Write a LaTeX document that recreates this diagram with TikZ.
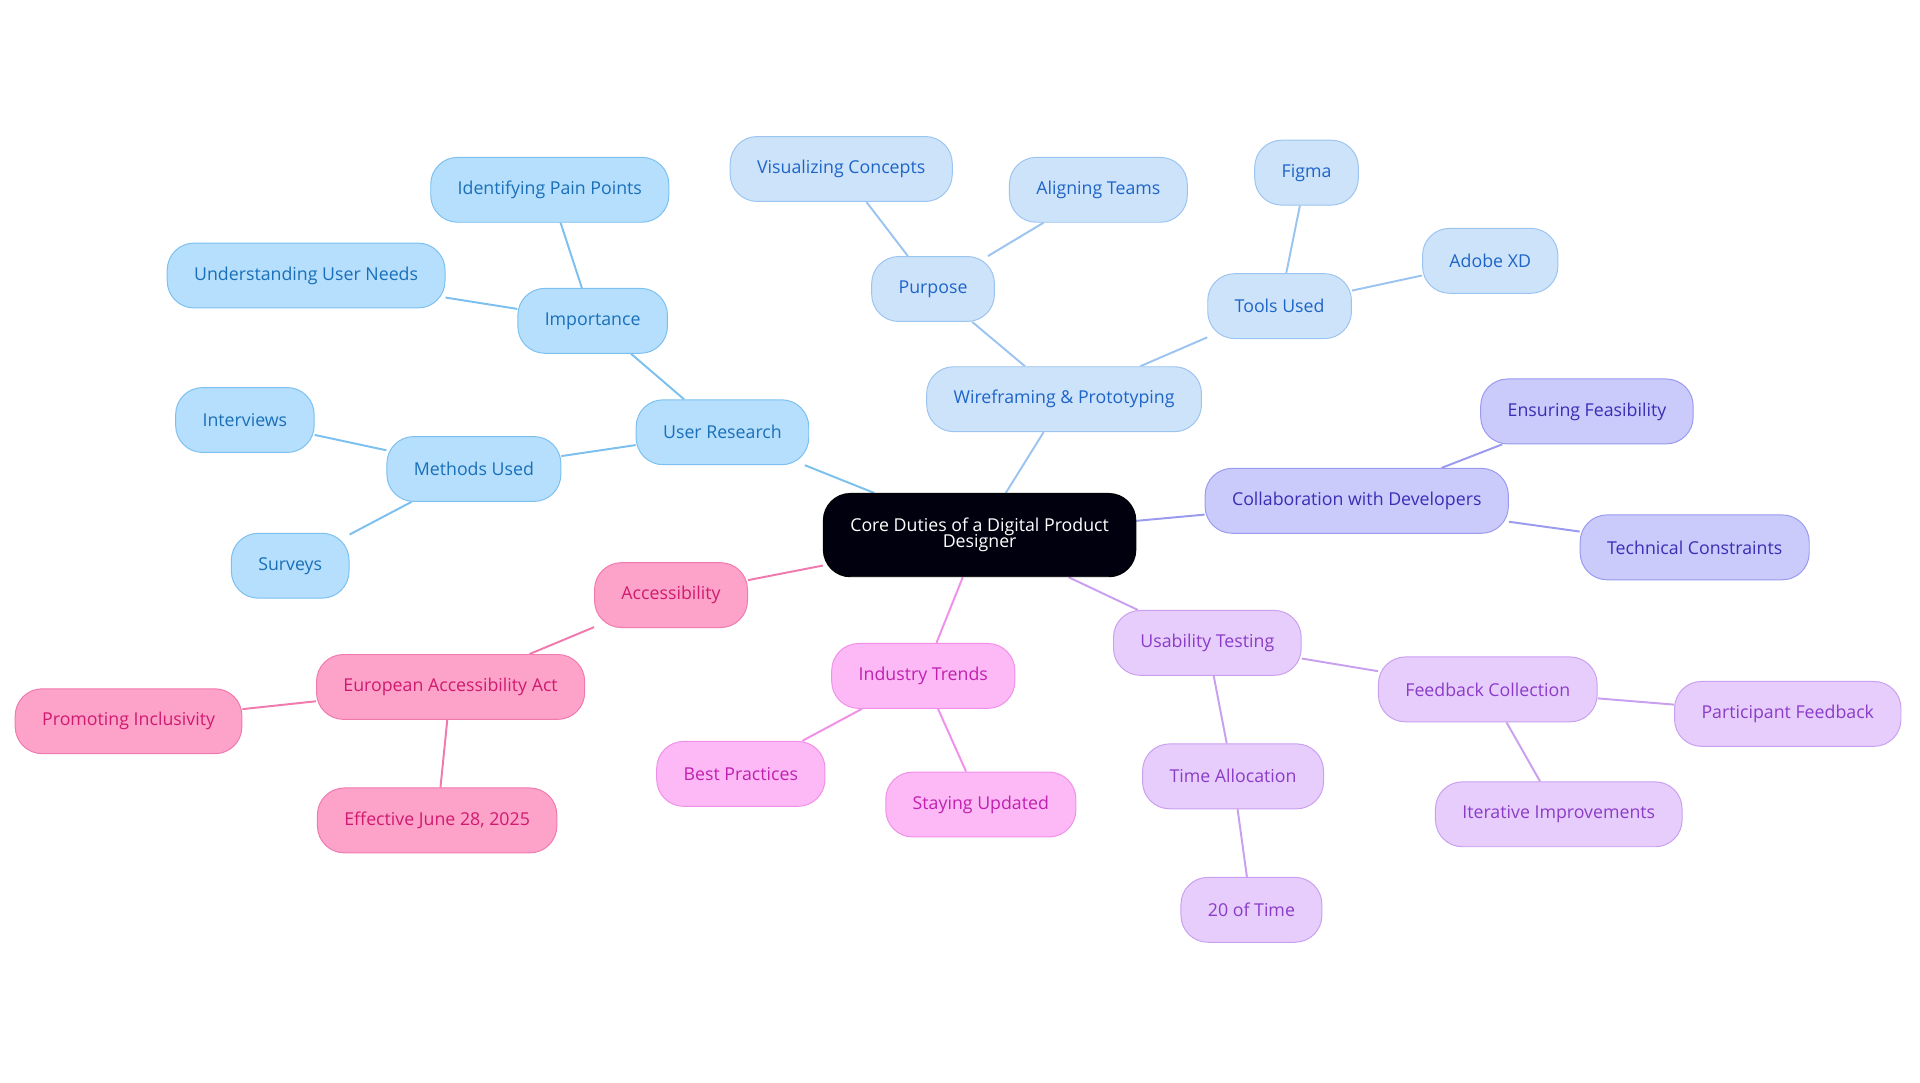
\documentclass[tikz,border=0pt]{standalone}
\usepackage{fontspec}
\setmainfont{Open Sans}
\usetikzlibrary{backgrounds}
\definecolor{bF}{HTML}{B5DFFC}\definecolor{bS}{HTML}{7CC0F0}\definecolor{bT}{HTML}{1A6FB8}
\definecolor{wF}{HTML}{CDE3FA}\definecolor{wS}{HTML}{9CC4F0}\definecolor{wT}{HTML}{1E64C8}
\definecolor{cF}{HTML}{CACAFB}\definecolor{cS}{HTML}{9A9AF0}\definecolor{cT}{HTML}{3B2DB5}
\definecolor{uF}{HTML}{E7CDFB}\definecolor{uS}{HTML}{C9A0F0}\definecolor{uT}{HTML}{8A3CC8}
\definecolor{iF}{HTML}{FDB9F5}\definecolor{iS}{HTML}{F090E8}\definecolor{iT}{HTML}{C020B0}
\definecolor{aF}{HTML}{FDA2C9}\definecolor{aS}{HTML}{F07AAE}\definecolor{aT}{HTML}{D01A70}
\tikzset{x=1pt,y=-1pt,
 nd/.style={rounded corners=22pt,minimum height=53pt,inner xsep=22pt,line width=0.8pt,font=\fontsize{14.5}{17}\selectfont},
 bn/.style={nd,fill=bF,draw=bS,text=bT}, be/.style={draw=bS,line width=1.6pt},
 wn/.style={nd,fill=wF,draw=wS,text=wT}, we/.style={draw=wS,line width=1.6pt},
 cn/.style={nd,fill=cF,draw=cS,text=cT}, ce/.style={draw=cS,line width=1.6pt},
 un/.style={nd,fill=uF,draw=uS,text=uT}, ue/.style={draw=uS,line width=1.6pt},
 inn/.style={nd,fill=iF,draw=iS,text=iT}, ie/.style={draw=iS,line width=1.6pt},
 an/.style={nd,fill=aF,draw=aS,text=aT}, ae/.style={draw=aS,line width=1.6pt}}
\begin{document}
\begin{tikzpicture}
\useasboundingbox (0,0) rectangle (1568,884);
\node[nd,fill=black!90!blue!60!black,draw=black,text=white,align=center,minimum height=68pt,minimum width=255pt] (c) at (800,437) {Core Duties of a Digital Product\\[-4pt]Designer};
\node[bn] (ur) at (590,353) {User Research};
\node[bn] (imp) at (484,262) {Importance};
\node[bn] (ipp) at (449,155) {Identifying Pain Points};
\node[bn] (uun) at (250,225) {Understanding User Needs};
\node[bn] (mu) at (387,383) {Methods Used};
\node[bn] (int) at (200,343) {Interviews};
\node[bn] (sur) at (237,462) {Surveys};
\node[wn] (wp) at (869,326) {Wireframing \& Prototyping};
\node[wn] (pur) at (762,236) {Purpose};
\node[wn] (vc) at (687,138) {Visualizing Concepts};
\node[wn] (at) at (897,155) {Aligning Teams};
\node[wn] (tu) at (1045,250) {Tools Used};
\node[wn] (fig) at (1067,141) {Figma};
\node[wn] (axd) at (1217,213) {Adobe XD};
\node[cn] (col) at (1108,409) {Collaboration with Developers};
\node[cn] (ef) at (1296,336) {Ensuring Feasibility};
\node[cn] (tc) at (1384,447) {Technical Constraints};
\node[un] (ut) at (986,525) {Usability Testing};
\node[un] (fc) at (1215,563) {Feedback Collection};
\node[un] (pf) at (1460,583) {Participant Feedback};
\node[un] (ii) at (1273,665) {Iterative Improvements};
\node[un] (ta) at (1007,634) {Time Allocation};
\node[un] (tw) at (1022,743) {20 of Time};
\node[inn] (it) at (754,552) {Industry Trends};
\node[inn] (bp) at (605,632) {Best Practices};
\node[inn] (su) at (801,657) {Staying Updated};
\node[an] (acc) at (548,486) {Accessibility};
\node[an] (eaa) at (368,561) {European Accessibility Act};
\node[an] (pi) at (105,589) {Promoting Inclusivity};
\node[an] (ej) at (357,670) {Effective June 28, 2025};
\begin{scope}[on background layer]
\draw[be] (c)--(ur) (ur)--(imp) (imp)--(ipp) (imp)--(uun) (ur)--(mu) (mu)--(int) (mu)--(sur);
\draw[we] (c)--(wp) (wp)--(pur) (pur)--(vc) (pur)--(at) (wp)--(tu) (tu)--(fig) (tu)--(axd);
\draw[ce] (c)--(col) (col)--(ef) (col)--(tc);
\draw[ue] (c)--(ut) (ut)--(fc) (fc)--(pf) (fc)--(ii) (ut)--(ta) (ta)--(tw);
\draw[ie] (c)--(it) (it)--(bp) (it)--(su);
\draw[ae] (c)--(acc) (acc)--(eaa) (eaa)--(pi) (eaa)--(ej);
\end{scope}
\end{tikzpicture}
\end{document}
